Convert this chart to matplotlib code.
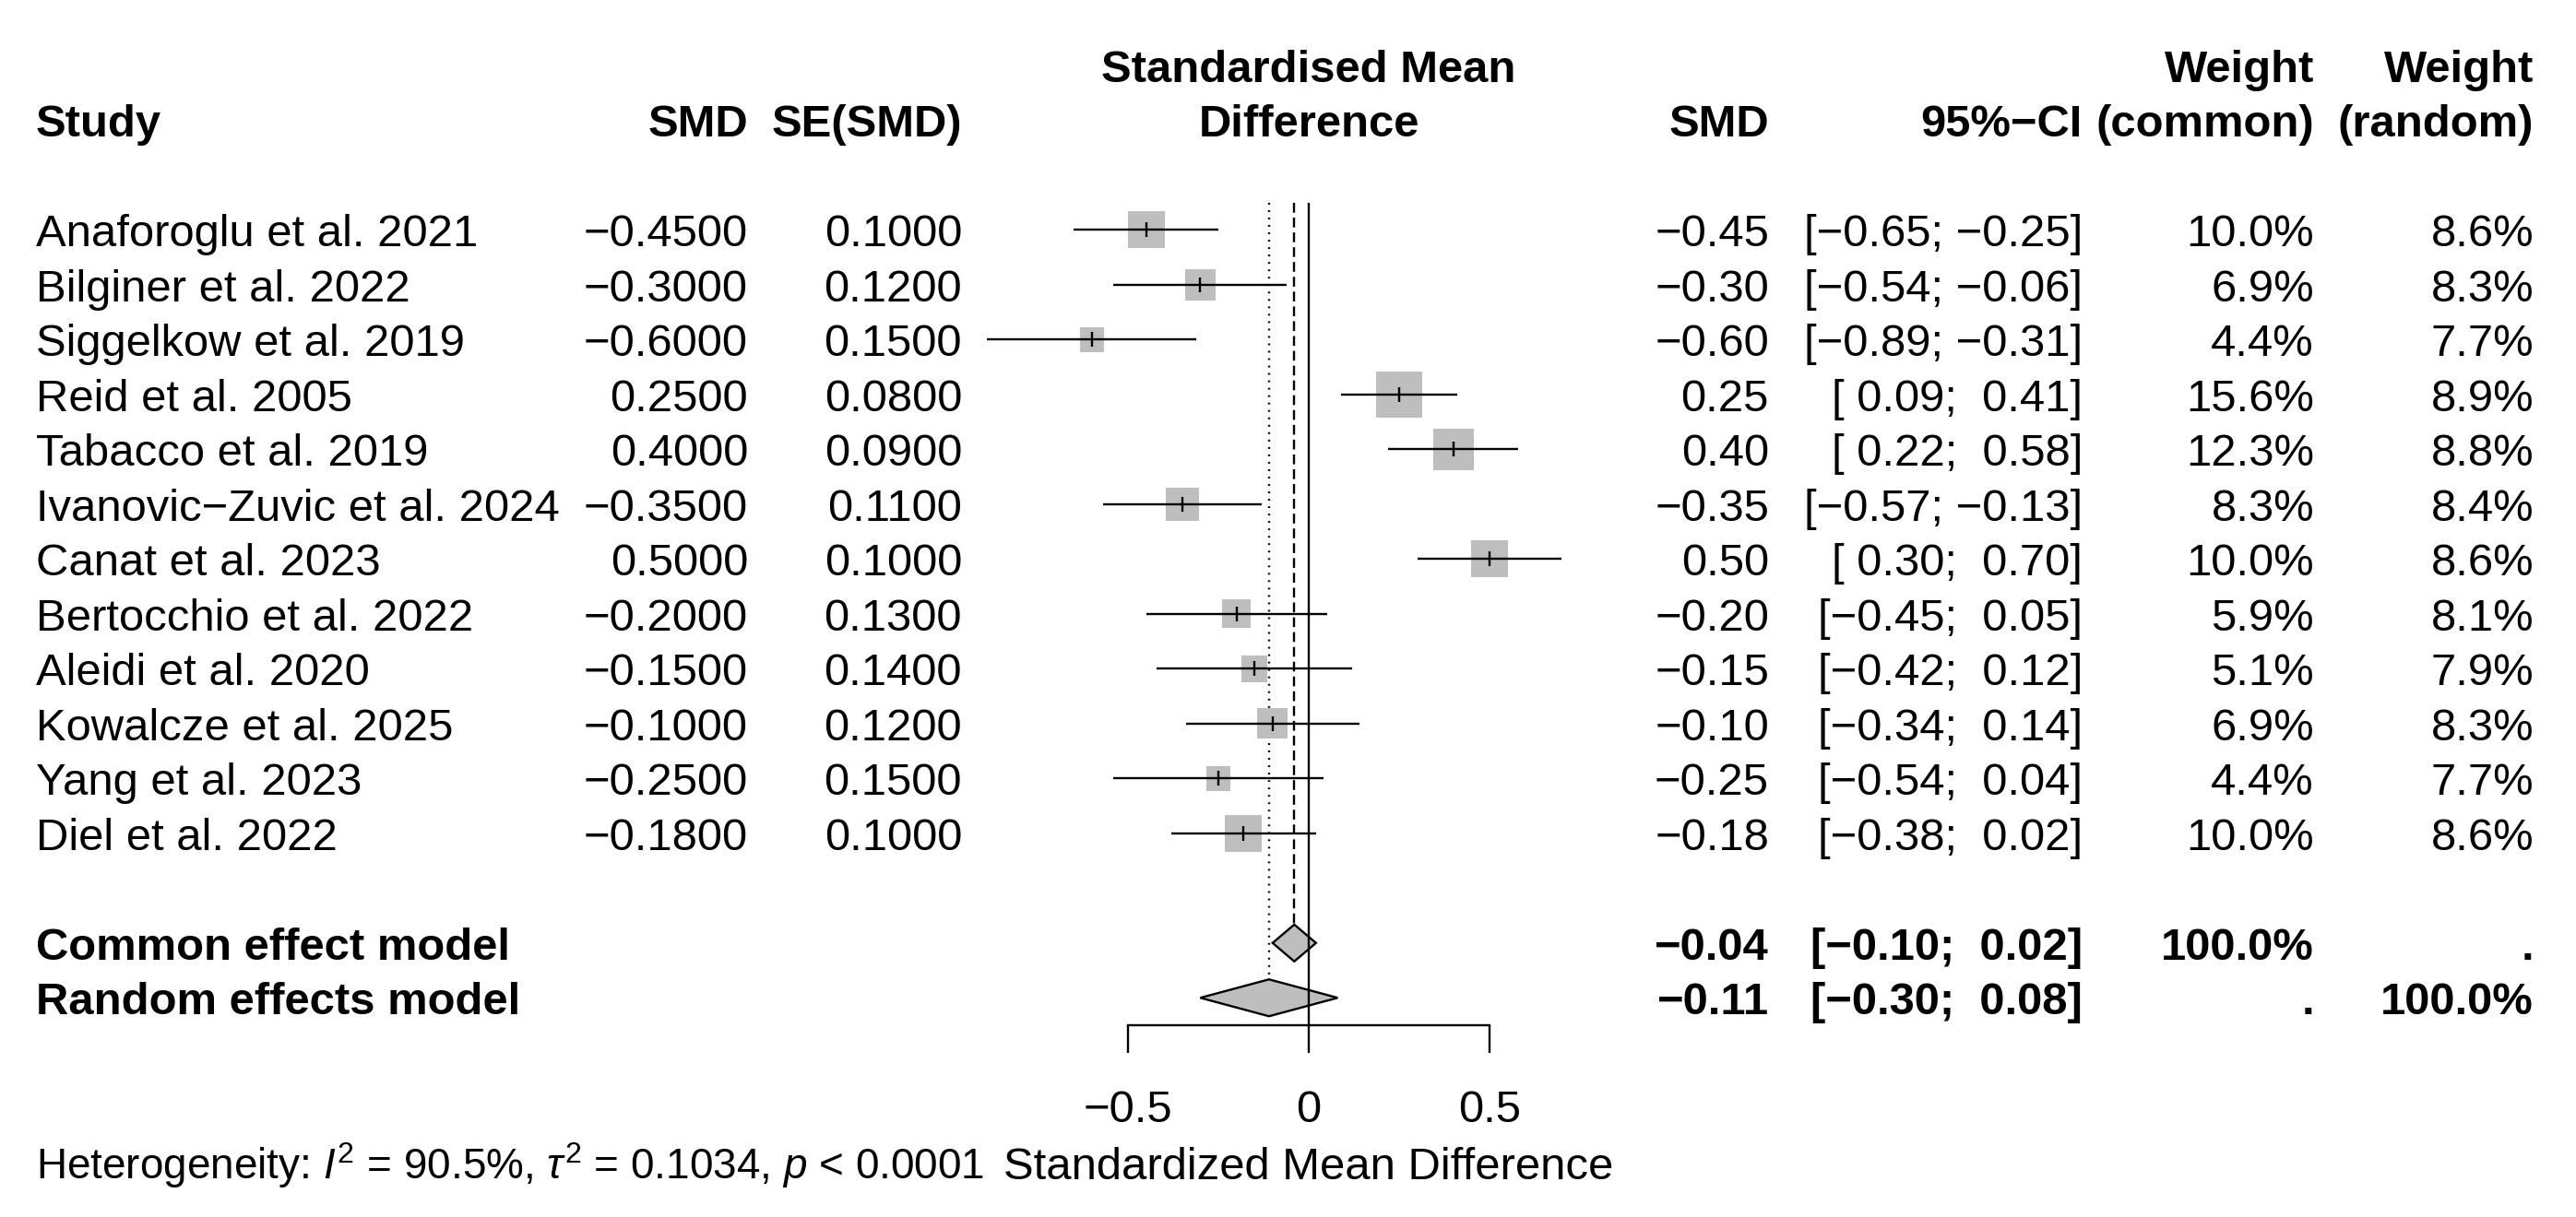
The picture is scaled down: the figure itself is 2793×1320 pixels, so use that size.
import matplotlib
matplotlib.use("Agg")
import matplotlib.pyplot as plt
import matplotlib.transforms as mtransforms
import numpy as np

# data
studies = ["Anaforoglu et al. 2021", "Bilginer et al. 2022", "Siggelkow et al. 2019",
           "Reid et al. 2005", "Tabacco et al. 2019", "Ivanovic\u2212Zuvic et al. 2024",
           "Canat et al. 2023", "Bertocchio et al. 2022", "Aleidi et al. 2020",
           "Kowalcze et al. 2025", "Yang et al. 2023", "Diel et al. 2022"]
smd = [-0.45, -0.30, -0.60, 0.25, 0.40, -0.35, 0.50, -0.20, -0.15, -0.10, -0.25, -0.18]
se = [0.10, 0.12, 0.15, 0.08, 0.09, 0.11, 0.10, 0.13, 0.14, 0.12, 0.15, 0.10]
ci_lo = [-0.65, -0.54, -0.89, 0.09, 0.22, -0.57, 0.30, -0.45, -0.42, -0.34, -0.54, -0.38]
ci_hi = [-0.25, -0.06, -0.31, 0.41, 0.58, -0.13, 0.70, 0.05, 0.12, 0.14, 0.04, 0.02]
w_common = [10.0, 6.9, 4.4, 15.6, 12.3, 8.3, 10.0, 5.9, 5.1, 6.9, 4.4, 10.0]
w_random = [8.6, 8.3, 7.7, 8.9, 8.8, 8.4, 8.6, 8.1, 7.9, 8.3, 7.7, 8.6]

pooled_labels = ["Common effect model", "Random effects model"]
pooled_est = [-0.04, -0.11]
pooled_lo = [-0.10, -0.30]
pooled_hi = [0.02, 0.08]
pooled_wc = ["100.0%", "."]
pooled_wr = [".", "100.0%"]

xticks = [-0.5, 0, 0.5]
xticklabels = ["\u22120.5", "0", "0.5"]
heterogeneity = r"Heterogeneity: $\mathit{I}^2$ = 90.5%, $\tau^2$ = 0.1034, $\mathit{p}$ < 0.0001"

plt.rcParams["font.family"] = ["Liberation Sans", "DejaVu Sans"]
plt.rcParams["mathtext.fontset"] = "custom"
plt.rcParams["mathtext.rm"] = "Liberation Sans"
plt.rcParams["mathtext.it"] = "Liberation Sans:italic"
plt.rcParams["mathtext.bf"] = "Liberation Sans:bold"

MINUS = "\u2212"


def fmt(v, nd):
    s = f"{v:.{nd}f}"
    return s.replace("-", MINUS)


def fmt_ci(lo, hi):
    a = fmt(lo, 2)
    b = fmt(hi, 2)
    a = a if a.startswith(MINUS) else " " + a
    b = b if b.startswith(MINUS) else " " + b
    return f"[{a}; {b}]"


# layout (pixels of the 2793x1320 output)
W, H = 2793, 1320
x0_px, unit_px = 1419, 392
row0, row_h = 249.5, 59.5
axis_px = 1112

fig = plt.figure(figsize=(W / 100, H / 100), dpi=100)
ax = fig.add_axes([0, (H - axis_px) / H, 1, axis_px / H])
ax.set_xlim(-x0_px / unit_px, (W - x0_px) / unit_px)
ax.set_ylim(14.5, -row0 / row_h)

fs = 35.3
lw = 1.7
base = 0.30  # baseline offset (rows) so text is centred on the row
tr = mtransforms.blended_transform_factory(ax.transAxes, ax.transData)


def col(xpx, row, s, ha="right", bold=False, size=fs):
    ax.text(xpx / W, row + base, s, transform=tr, ha=ha, va="baseline",
            fontsize=size, fontweight="bold" if bold else "normal")


# headers
col(39, -2, "Study", ha="left", bold=True)
col(811, -2, "SMD", bold=True)
col(1043, -2, "SE(SMD)", bold=True)
ax.text(0, -3 + base, "Standardised Mean", ha="center", va="baseline", fontsize=fs, fontweight="bold")
ax.text(0, -2 + base, "Difference", ha="center", va="baseline", fontsize=fs, fontweight="bold")
col(1918, -2, "SMD", bold=True)
col(2258, -2, "95%" + MINUS + "CI", bold=True)
col(2509, -3, "Weight", bold=True)
col(2509, -2, "(common)", bold=True)
col(2747, -3, "Weight", bold=True)
col(2747, -2, "(random)", bold=True)

rows = np.arange(len(studies))
for i in rows:
    col(39, i, studies[i], ha="left")
    col(811, i, fmt(smd[i], 4))
    col(1043, i, fmt(se[i], 4))
    col(1918, i, fmt(smd[i], 2))
    col(2258, i, fmt_ci(ci_lo[i], ci_hi[i]))
    col(2509, i, f"{w_common[i]:.1f}%")
    col(2747, i, f"{w_random[i]:.1f}%")

prow = [len(studies) + 1, len(studies) + 2]
for k in range(2):
    col(39, prow[k], pooled_labels[k], ha="left", bold=True)
    col(1918, prow[k], fmt(pooled_est[k], 2), bold=True)
    col(2258, prow[k], fmt_ci(pooled_lo[k], pooled_hi[k]), bold=True)
    col(2509, prow[k], pooled_wc[k], bold=True)
    col(2747, prow[k], pooled_wr[k], bold=True)

# reference lines
dh = 20 / row_h  # half height of the diamonds
ax.vlines(0, -0.5, 14.5, color="black", lw=lw, zorder=5)
ax.vlines(pooled_est[0], -0.5, prow[0] - dh, color="black", lw=lw,
          linestyles=[(0, (4.5, 2.3))], zorder=1)
ax.vlines(pooled_est[1], -0.5, prow[1] - dh, color="black", lw=lw,
          linestyles=[(0, (0.8, 2.6))], zorder=1)

# squares sized by common-effect weight
side_pt = 40 * np.sqrt(np.array(w_common) / 10) * 0.72
ax.scatter(smd, rows, s=side_pt ** 2, marker="s", color="#BEBEBE", edgecolors="none", zorder=2)
ax.hlines(rows, ci_lo, ci_hi, color="black", lw=lw, zorder=3)
ax.plot(smd, rows, ls="none", marker="|", ms=11, mew=lw, color="black", zorder=3)

# pooled diamonds
for k in range(2):
    ax.fill([pooled_lo[k], pooled_est[k], pooled_hi[k], pooled_est[k]],
            [prow[k], prow[k] - dh, prow[k], prow[k] + dh],
            facecolor="#BEBEBE", edgecolor="black", lw=lw, zorder=4)

# x axis
for s in ["top", "left", "right"]:
    ax.spines[s].set_visible(False)
ax.spines["bottom"].set_bounds(min(xticks), max(xticks))
ax.spines["bottom"].set_linewidth(lw)
ax.set_yticks([])
ax.set_xticks(xticks)
ax.set_xticklabels(xticklabels, fontsize=fs)
ax.tick_params(axis="x", direction="out", length=21.4, width=lw, pad=29)
ax.patch.set_visible(False)

ax.text(0, 17 + base, "Standardized Mean Difference", ha="center", va="baseline", fontsize=fs)
col(39, 17, heterogeneity, ha="left", size=33)

fig.savefig("out.png", dpi=100, facecolor="white")
